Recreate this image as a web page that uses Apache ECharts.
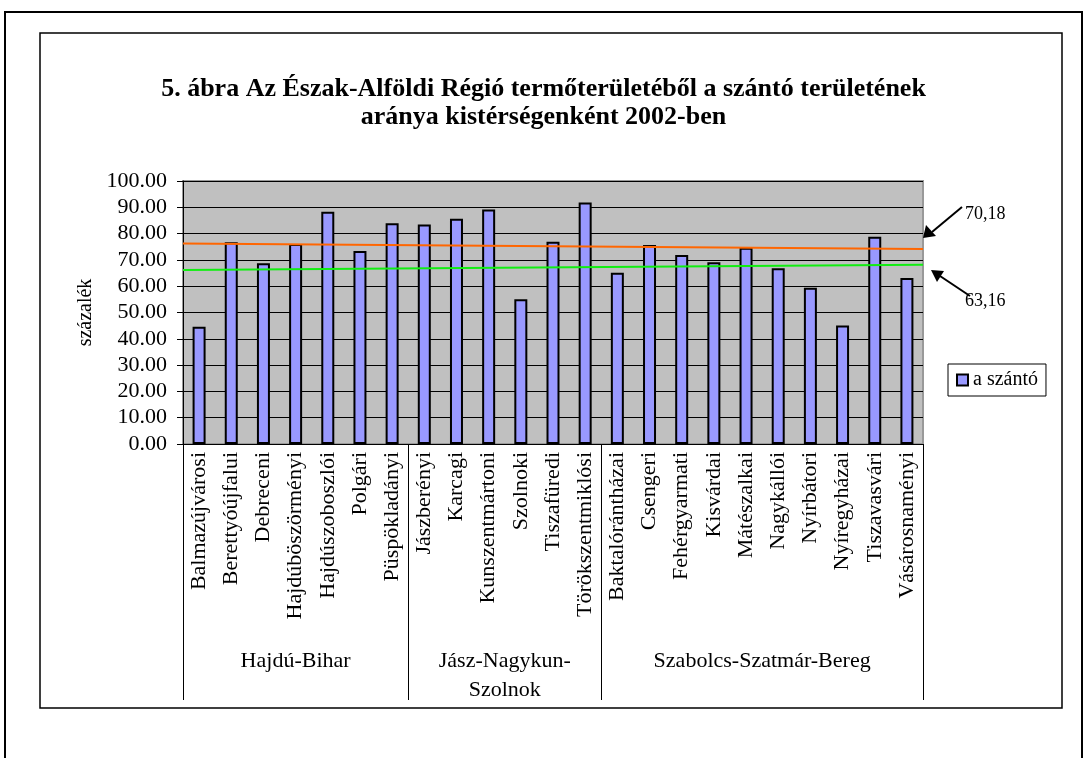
<!DOCTYPE html>
<html>
<head>
<meta charset="utf-8">
<script src="https://cdn.jsdelivr.net/npm/echarts@6/dist/echarts.min.js"></script>
<style>
  html, body { margin: 0; padding: 0; background: #fff; }
  #chart { width: 1087px; height: 758px; }
</style>
</head>
<body>
<div id="chart"></div>
<script>
// kistérségek (kategóriák)
const categories = [
    'Balmazújvárosi', 'Berettyóújfalui', 'Debreceni', 'Hajdúböszörményi', 'Hajdúszoboszlói', 'Polgári', 'Püspökladányi',
    'Jászberényi', 'Karcagi', 'Kunszentmártoni', 'Szolnoki', 'Tiszafüredi', 'Törökszentmiklósi',
    'Baktalórántházai', 'Csengeri', 'Fehérgyarmati', 'Kisvárdai', 'Mátészalkai', 'Nagykállói', 'Nyírbátori',
    'Nyíregyházai', 'Tiszavasvári', 'Vásárosnaményi'
];
// a szántó aránya (%)
const szanto = [
    44.6, 76.7, 68.7, 76.0, 88.3, 73.4, 83.9,
    83.5, 85.6, 89.2, 55.0, 76.9, 91.8,
    65.1, 75.7, 71.9, 69.1, 74.6, 66.8, 59.4, 45.1, 78.8, 63.1
];
// megyék és a hozzájuk tartozó kistérségek száma
const megyek = ['Hajdú-Bihar', 'Jász-Nagykun-\nSzolnok', 'Szabolcs-Szatmár-Bereg'];
const megyeDarab = [7, 6, 10];
// trendvonalak végpontjai [kezdet, vég]
const trendNarancs = [76.2, 74.1];
const trendZold = [66.2, 68.2];
// y tengely
const yMin = 0, yMax = 100, yStep = 10;

const serif = '"Liberation Serif", "Times New Roman", serif';

// megyehatárok és középpontok
const hatarok = [0];
megyeDarab.forEach((n, i) => hatarok.push(hatarok[i] + n));
const kozepek = megyeDarab.map((n, i) => hatarok[i] + n / 2);

const chart = echarts.init(document.getElementById('chart'));

const option = {
    backgroundColor: '#fff',
    animation: false,
    title: {
        text: '5. ábra Az Észak-Alföldi Régió termőterületéből a szántó területének\naránya kistérségenként 2002-ben',
        left: 'center',
        top: 70,
        textStyle: {
            fontFamily: serif,
            fontWeight: 'bold',
            fontSize: 26,
            lineHeight: 28,
            color: '#000'
        }
    },
    legend: {
        data: ['a szántó'],
        left: 948,
        top: 364,
        orient: 'vertical',
        padding: [6, 8, 6, 8],
        borderColor: '#000',
        borderWidth: 1,
        icon: 'rect',
        itemWidth: 11,
        itemHeight: 11,
        itemGap: 4,
        textStyle: { fontFamily: serif, fontSize: 20, color: '#000' }
    },
    grid: {
        left: 183,
        top: 181,
        right: 164,
        bottom: 314,
        show: true,
        backgroundColor: '#c0c0c0',
        borderColor: '#999',
        borderWidth: 2
    },
    xAxis: [
        {
            type: 'category',
            data: categories,
            axisLine: { lineStyle: { color: '#000', width: 1 } },
            axisTick: { length: 181, lineStyle: { color: '#000', width: 1 } },
            axisLabel: {
                rotate: 90,
                interval: 0,
                margin: 8,
                fontFamily: serif,
                fontSize: 22,
                color: '#000'
            }
        },
        {
            type: 'value',
            position: 'bottom',
            min: 0,
            max: categories.length,
            axisLine: { show: false },
            splitLine: { show: false },
            axisTick: {
                show: true,
                customValues: hatarok,
                length: 256,
                lineStyle: { color: '#000', width: 1 }
            },
            axisLabel: {
                customValues: kozepek,
                margin: 203,
                fontFamily: serif,
                fontSize: 22,
                lineHeight: 29,
                color: '#000',
                formatter: (v) => {
                    const i = kozepek.indexOf(v);
                    return i >= 0 ? megyek[i] : '';
                }
            }
        }
    ],
    yAxis: {
        type: 'value',
        min: yMin,
        max: yMax,
        interval: yStep,
        name: 'százalék',
        nameLocation: 'middle',
        nameRotate: 90,
        nameGap: 80,
        nameTextStyle: { fontFamily: serif, fontSize: 20, color: '#000' },
        axisLine: { show: true, lineStyle: { color: '#000', width: 1 } },
        axisTick: { show: true, length: 6, lineStyle: { color: '#000' } },
        axisLabel: {
            margin: 16,
            fontFamily: serif,
            fontSize: 22,
            color: '#000',
            formatter: (v) => v.toFixed(2)
        },
        splitLine: { lineStyle: { color: '#000', width: 1 } }
    },
    series: [
        {
            name: 'a szántó',
            type: 'bar',
            xAxisIndex: 0,
            data: szanto,
            barWidth: 13,
            itemStyle: { color: '#9999ff', borderColor: '#000', borderWidth: 2 }
        },
        {
            name: 'trend1',
            type: 'line',
            xAxisIndex: 1,
            data: [[0, trendNarancs[0]], [categories.length, trendNarancs[1]]],
            symbol: 'none',
            lineStyle: { color: '#ff6600', width: 2 },
            z: 5
        },
        {
            name: 'trend2',
            type: 'line',
            xAxisIndex: 1,
            data: [[0, trendZold[0]], [categories.length, trendZold[1]]],
            symbol: 'none',
            lineStyle: { color: '#11ee11', width: 2 },
            z: 5
        }
    ],
    graphic: [
        // külső és belső keret
        { type: 'rect', shape: { x: 5, y: 12, width: 1077, height: 760 }, style: { fill: 'none', stroke: '#000', lineWidth: 2 }, silent: true },
        { type: 'rect', shape: { x: 40, y: 33, width: 1022, height: 675 }, style: { fill: 'none', stroke: '#000', lineWidth: 1.5 }, silent: true },
        // feliratok nyilakkal
        { type: 'text', left: 965, top: 205, style: { text: '70,18', font: '18px ' + serif, fill: '#000' } },
        { type: 'text', left: 965, top: 292, style: { text: '63,16', font: '18px ' + serif, fill: '#000' } },
        { type: 'line', shape: { x1: 962, y1: 207, x2: 932, y2: 232 }, style: { stroke: '#000', lineWidth: 2 } },
        { type: 'polygon', shape: { points: [[923, 238], [926, 225], [936, 236]] }, style: { fill: '#000' } },
        { type: 'line', shape: { x1: 970, y1: 296, x2: 940, y2: 276 }, style: { stroke: '#000', lineWidth: 2 } },
        { type: 'polygon', shape: { points: [[931, 270], [944, 271], [937, 282]] }, style: { fill: '#000' } }
    ]
};

chart.setOption(option);
window.addEventListener('resize', () => chart.resize());
</script>
</body>
</html>
